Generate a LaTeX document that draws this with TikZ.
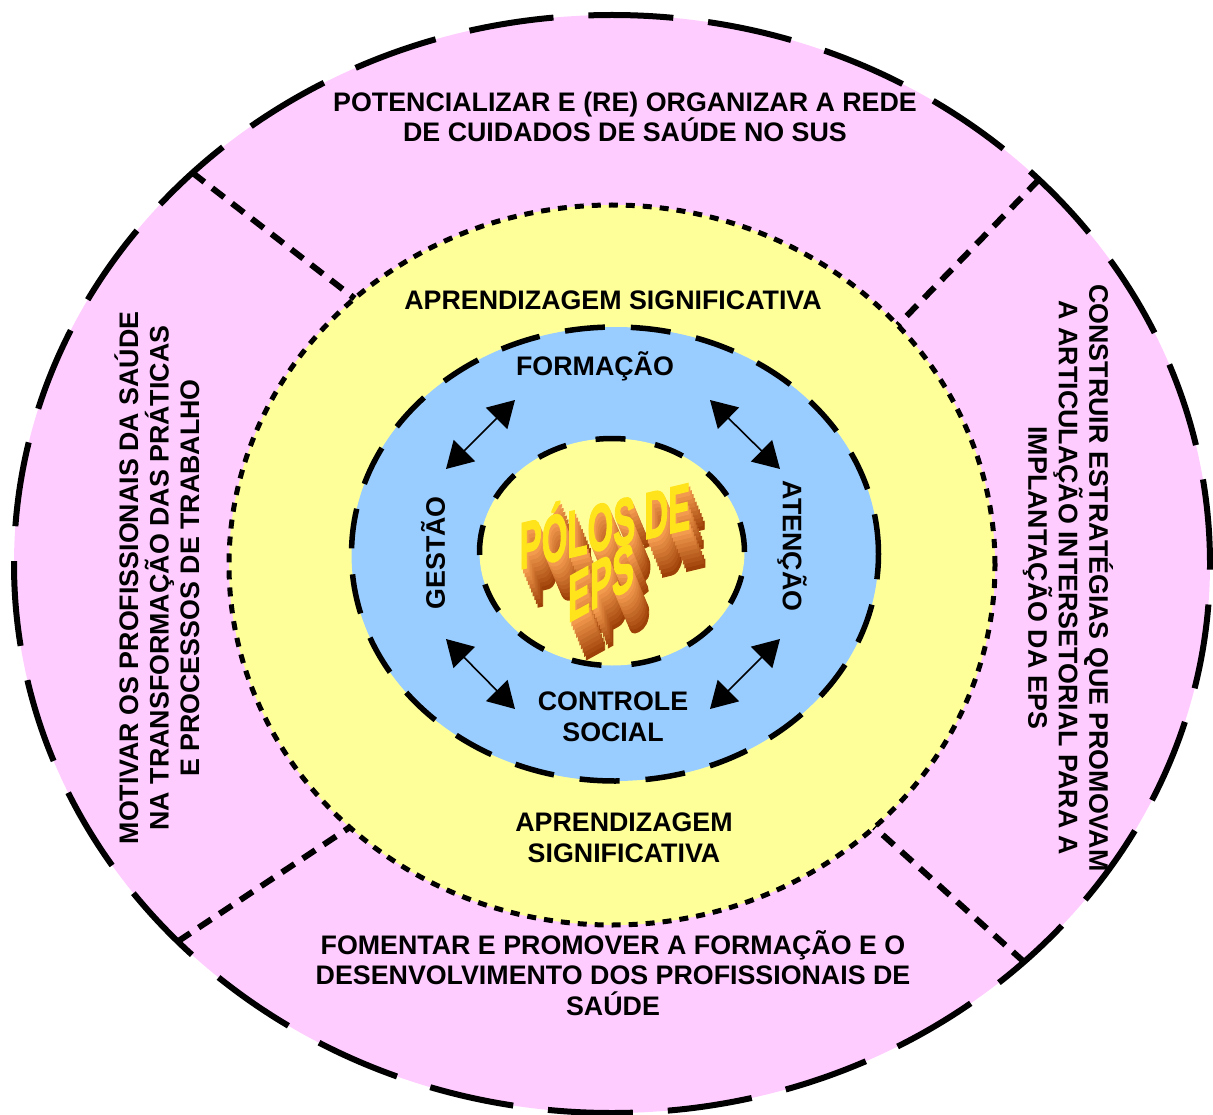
\documentclass[tikz,border=0pt]{standalone}
\usepackage{fontspec}
\setmainfont{Liberation Sans}
\newfontfamily\wafont[FakeBold=2.5]{Liberation Sans Bold}
\usetikzlibrary{shapes.geometric, arrows.meta}
\definecolor{rosa}{HTML}{FFCCFF}
\definecolor{amarelo}{HTML}{FFFF99}
\definecolor{azul}{HTML}{99CCFF}
\definecolor{ouro}{HTML}{FFE41C}
\definecolor{laranja}{HTML}{FBA455}
\definecolor{marrom}{HTML}{943600}
\tikzset{
  ring/.style={ellipse, inner sep=0pt, outer sep=0pt, draw},
  lbl/.style={font=\bfseries\fontsize{26.8}{30.5}\selectfont, align=center, inner sep=0pt},
  divisor/.style={line width=6pt, dash pattern=on 15pt off 10pt},
  seta/.style={line width=1.6pt, {Triangle[length=26pt,width=30pt]}-{Triangle[length=26pt,width=30pt]}},
  wa/.style={font=\wafont\fontsize{66}{66}\selectfont, inner sep=0pt, transform shape},
}
\begin{document}
\begin{tikzpicture}[x=1pt, y=-1pt]
      \useasboundingbox (0,0) rectangle (1213,1115);
      \node[ring, fill=rosa, line width=6pt, dash pattern=on 85pt off 35pt, minimum width=1196pt, minimum height=1098pt] (metas) at (612,564) {};
      \node[ring, fill=amarelo, line width=5pt, dash pattern=on 9pt off 8pt, minimum width=766pt, minimum height=720pt] (aprend) at (612,565) {};
      \node[ring, fill=azul, line width=5.5pt, dash pattern=on 40pt off 26pt, minimum width=527pt, minimum height=454pt] (eixos) at (615,554) {};
      \node[ring, fill=amarelo, line width=5.5pt, dash pattern=on 30pt off 30pt, minimum width=265pt, minimum height=227pt] (polos) at (612,552) {};
      \foreach \a/\b in {137.6/134.8, 42/40.1, 221.9/225.3, 316.4/315.2} {
        \draw[divisor] (metas.\a) -- (aprend.\b);
      }
      \node[lbl] (rede) at (625,117) {POTENCIALIZAR E (RE) ORGANIZAR A REDE\\DE CUIDADOS DE SAÚDE NO SUS};
      \node[lbl] (fomentar) at (613,973) {FOMENTAR E PROMOVER A FORMAÇÃO E O\\DESENVOLVIMENTO DOS PROFISSIONAIS DE\\SAÚDE};
      \node[lbl, rotate=90] (motivar) at (157,578) {MOTIVAR OS PROFISSIONAIS DA SAÚDE\\NA TRANSFORMAÇÃO DAS PRÁTICAS\\E PROCESSOS DE TRABALHO};
      \node[lbl, rotate=-90] (construir) at (1068,578) {CONSTRUIR ESTRATÉGIAS QUE PROMOVAM\\A ARTICULAÇÃO INTERSETORIAL PARA A\\IMPLANTAÇÃO DA EPS};
      \node[lbl] (aprendsup) at (613,300) {APRENDIZAGEM SIGNIFICATIVA};
      \node[lbl] (aprendinf) at (624,838) {APRENDIZAGEM\\SIGNIFICATIVA};
      \node[lbl] (formacao) at (595,366) {FORMAÇÃO};
      \node[lbl] (controle) at (613,717) {CONTROLE\\SOCIAL};
      \node[lbl, rotate=90] (gestao) at (433,553) {GESTÃO};
      \node[lbl, rotate=-90] (atencao) at (792,546) {ATENÇÃO};
      \coordinate (gf) at (446,469); \coordinate (fg) at (515,400);
      \coordinate (fa) at (710,400); \coordinate (af) at (780,469);
      \coordinate (gc) at (446,639); \coordinate (cg) at (515,709);
      \coordinate (ca) at (710,709); \coordinate (ac) at (780,639);
      \draw[seta] (gf) -- (fg);
      \draw[seta] (fa) -- (af);
      \draw[seta] (gc) -- (cg);
      \draw[seta] (ca) -- (ac);
      \coordinate (wa1) at (605,520);
      \coordinate (wa2) at (601,582);
      \foreach \i in {10,...,1} {
        \pgfmathtruncatemacro\mix{100-\i*9}
        \node[wa, yslant=0.24, xscale=0.5, text=laranja!\mix!marrom] at ([shift={(1.6*\i,3.8*\i)}]wa1) {PÓLOS DE};
        \node[wa, yslant=0.55, xscale=0.5, text=laranja!\mix!marrom] at ([shift={(1.6*\i,3.8*\i)}]wa2) {EPS};
      }
      \node[wa, yslant=0.24, xscale=0.5, text=ouro] (polosde) at (wa1) {PÓLOS DE};
      \node[wa, yslant=0.55, xscale=0.5, text=ouro] (eps) at (wa2) {EPS};
    \end{tikzpicture}
\end{document}
